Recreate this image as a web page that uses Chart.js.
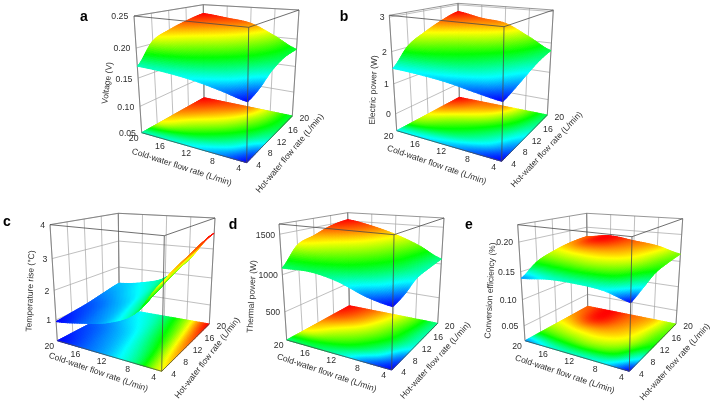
<!DOCTYPE html>
<html>
<head>
<meta charset="utf-8">
<style>
html, body { margin: 0; padding: 0; background: #fff; }
body { position: relative; width: 711px; height: 404px; overflow: hidden; }
canvas { position: absolute; }
</style>
<script src="https://cdn.jsdelivr.net/npm/chart.js@4"></script>
</head>
<body>
<script>
const coldRates = [4, 8, 12, 16, 20];
const hotRates = [4, 8, 12, 16, 20];
const coldTickLabels = ['4', '8', '12', '16', '20'];
const hotTickLabels = ['4', '8', '12', '16', '20'];
const coldTitle = 'Cold-water flow rate (L/min)';
const hotTitle = 'Hot-water flow rate (L/min)';

// rows = hot rate, columns = cold rate
const voltage = [
    [0.140, 0.149, 0.157, 0.162, 0.164],
    [0.148, 0.163, 0.175, 0.187, 0.200],
    [0.164, 0.178, 0.192, 0.203, 0.213],
    [0.174, 0.190, 0.206, 0.216, 0.223],
    [0.176, 0.198, 0.218, 0.225, 0.231],
];
const electricPower = [
    [1.02, 1.12, 1.25, 1.33, 1.37],
    [1.15, 1.38, 1.58, 1.76, 1.95],
    [1.33, 1.60, 1.85, 2.05, 2.25],
    [1.52, 1.85, 2.17, 2.36, 2.52],
    [1.64, 2.05, 2.44, 2.55, 2.73],
];
const temperatureRise = [
    [2.71, 1.70, 1.25, 1.03, 0.87],
    [2.90, 1.85, 1.32, 1.08, 0.93],
    [3.08, 2.05, 1.42, 1.15, 1.00],
    [3.27, 2.25, 1.55, 1.28, 1.12],
    [3.46, 2.45, 1.68, 1.38, 1.24],
];
const thermalPower = [
    [806, 865, 985, 1050, 1039],
    [860, 1000, 1120, 1200, 1290],
    [965, 1100, 1215, 1300, 1370],
    [1000, 1150, 1280, 1390, 1460],
    [1024, 1190, 1325, 1430, 1505],
];
const conversionEfficiency = [
    [0.126, 0.137, 0.140, 0.139, 0.132],
    [0.137, 0.153, 0.158, 0.156, 0.153],
    [0.150, 0.163, 0.168, 0.168, 0.164],
    [0.155, 0.167, 0.174, 0.180, 0.172],
    [0.158, 0.170, 0.176, 0.182, 0.176],
];

const voltageTicks = [0.05, 0.10, 0.15, 0.20, 0.25];
const voltageTickLabels = ['0.05', '0.10', '0.15', '0.20', '0.25'];
const electricTicks = [0, 1, 2, 3];
const electricTickLabels = ['0', '1', '2', '3'];
const tempTicks = [1, 2, 3, 4];
const tempTickLabels = ['1', '2', '3', '4'];
const thermalTicks = [500, 1000, 1500];
const thermalTickLabels = ['500', '1000', '1500'];
const effTicks = [0.05, 0.10, 0.15, 0.20];
const effTickLabels = ['0.05', '0.10', '0.15', '0.20'];

// box: floor corners then top corners, in page pixels. F = cold4/hot4, L = cold20/hot4, R = cold4/hot20, B = cold20/hot20
const panels = [
    { letter: 'a', letterAt: [84, 17], frame: [70, 0, 262, 200], z: voltage, zRange: [0.05, 0.25], ticks: voltageTicks, tickLabels: voltageTickLabels,
      zTitle: 'Voltage (V)', zTitleAt: [107.5, 83, -83],
      F: [246.7, 162.7], L: [141.7, 132.7], R: [292.3, 116], B: [204, 97.7],
      Ft: [248.7, 27.3], Lt: [134, 16], Rt: [299, 10], Bt: [203.3, 4.7],
      coldAt: [181.7, 167.3, 18], hotAt: [290, 153.5, -50] },
    { letter: 'b', letterAt: [344, 17], frame: [336, 0, 270, 200], z: electricPower, zRange: [-0.6, 3.05], ticks: electricTicks, tickLabels: electricTickLabels,
      zTitle: 'Electric power (W)', zTitleAt: [373.5, 90, -88],
      F: [501.7, 161.3], L: [396.7, 130.7], R: [547.3, 115], B: [459.3, 97.3],
      Ft: [504, 26.7], Lt: [389.3, 15.3], Rt: [553.3, 10], Bt: [458, 3.3],
      coldAt: [436.7, 165, 19], hotAt: [546.7, 149.6, -47] },
    { letter: 'c', letterAt: [7, 222], frame: [0, 204, 245, 200], z: temperatureRise, zRange: [0.25, 4], ticks: tempTicks, tickLabels: tempTickLabels,
      zTitle: 'Temperature rise (\u00B0C)', zTitleAt: [30.5, 291, -88],
      F: [161.7, 371.3], L: [57.3, 340.7], R: [209.3, 324], B: [119.3, 308.3],
      Ft: [164.3, 235.7], Lt: [50, 224.7], Rt: [215, 218], Bt: [118.3, 213.3],
      coldAt: [98.3, 372.3, 19], hotAt: [207.5, 358, -52] },
    { letter: 'd', letterAt: [233, 225], frame: [226, 204, 245, 200], z: thermalPower, zRange: [90, 1620], ticks: thermalTicks, tickLabels: thermalTickLabels,
      zTitle: 'Thermal power (W)', zTitleAt: [252, 296.5, -87],
      F: [391.7, 370], L: [286.7, 340], R: [437.7, 323.3], B: [349.3, 305.7],
      Ft: [394, 234.7], Lt: [279, 224], Rt: [444, 218], Bt: [347.7, 212.7],
      coldAt: [326.7, 373, 18.5], hotAt: [435.5, 360.5, -48] },
    { letter: 'e', letterAt: [469, 225], frame: [462, 204, 249, 200], z: conversionEfficiency, zRange: [0.02, 0.228], ticks: effTicks, tickLabels: effTickLabels,
      zTitle: 'Conversion efficiency (%)', zTitleAt: [490.5, 290.5, -87],
      F: [629.3, 371.3], L: [525, 340.7], R: [676, 324], B: [587.7, 306.3],
      Ft: [632, 236.7], Lt: [517.7, 224.7], Rt: [682.7, 218.7], Bt: [586.7, 213.3],
      coldAt: [564.8, 374.3, 18.5], hotAt: [675, 362, -48] },
];

const FONT = '"Liberation Sans", Arial, sans-serif';
const SUBDIV = 16;
const DEPTH_BOW = 0.13;

function lerp(a, b, t) { return a + (b - a) * t; }

// page position of a (u, v, w) point inside the box
function boxPoint(p, u, v, w) {
    const pick = i => {
        const floor = (1 - u) * (1 - v) * p.F[i] + u * (1 - v) * p.L[i] + (1 - u) * v * p.R[i] + u * v * p.B[i];
        const top = (1 - u) * (1 - v) * p.Ft[i] + u * (1 - v) * p.Lt[i] + (1 - u) * v * p.Rt[i] + u * v * p.Bt[i];
        return lerp(floor, top, w);
    };
    return { x: pick(0), y: pick(1) };
}

function project(p, cold, hot, val) {
    const u = (cold - coldRates[0]) / (coldRates[coldRates.length - 1] - coldRates[0]);
    const v = (hot - hotRates[0]) / (hotRates[hotRates.length - 1] - hotRates[0]);
    const w = (val - p.zRange[0]) / (p.zRange[1] - p.zRange[0]);
    return boxPoint(p, u, v, w);
}

// tick levels sit a bit lower in the middle of the box, the camera is close
function projectTick(p, cold, hot, val) {
    const span = p.zRange[1] - p.zRange[0];
    const w = (val - p.zRange[0]) / span;
    return project(p, cold, hot, val - DEPTH_BOW * w * (1 - w) * span);
}

function catmull(a, b, c, d, t) {
    return 0.5 * (2 * b + (c - a) * t + (2 * a - 5 * b + 4 * c - d) * t * t + (3 * b - a - 3 * c + d) * t * t * t);
}

// smooth shading between the read values, only used to paint the cells
function shadeAt(z, fi, fj) {
    const n = z.length - 1, m = z[0].length - 1;
    const i = Math.min(Math.floor(fi), n - 1), j = Math.min(Math.floor(fj), m - 1);
    const row = r => {
        const q = z[Math.max(0, Math.min(n, r))];
        return catmull(q[Math.max(0, j - 1)], q[j], q[j + 1], q[Math.min(m, j + 2)], fj - j);
    };
    return catmull(row(i - 1), row(i), row(i + 1), row(i + 2), fi - i);
}

function rainbow(t) {
    t = Math.pow(Math.max(0, Math.min(1, t)), 0.85);
    return 'hsl(' + ((1 - t) * 240).toFixed(1) + ',100%,50%)';
}

const surfacePlugin = {
    id: 'surface',
    beforeDatasetsDraw(chart) {
        const p = chart.options.plugins.surface.panel;
        const ctx = chart.ctx;
        const sx = chart.scales.x, sy = chart.scales.y;
        const toPx = q => ({ x: sx.getPixelForValue(q.x), y: sy.getPixelForValue(q.y) });
        const line = (a, b) => {
            const pa = toPx(a), pb = toPx(b);
            ctx.beginPath(); ctx.moveTo(pa.x, pa.y); ctx.lineTo(pb.x, pb.y); ctx.stroke();
        };
        const zLo = p.zRange[0], zHi = p.zRange[1];
        const cMax = coldRates[coldRates.length - 1], hMax = hotRates[hotRates.length - 1];
        ctx.save();

        // back walls
        ctx.strokeStyle = '#a4a4a4';
        ctx.lineWidth = 0.7;
        p.ticks.forEach(t => {
            line(projectTick(p, coldRates[0], hMax, t), projectTick(p, cMax, hMax, t));
            line(projectTick(p, cMax, hotRates[0], t), projectTick(p, cMax, hMax, t));
        });
        coldRates.forEach(c => line(project(p, c, hMax, zLo), project(p, c, hMax, zHi)));
        hotRates.forEach(h => line(project(p, cMax, h, zLo), project(p, cMax, h, zHi)));
        ctx.strokeStyle = '#6a6a6a';
        line(project(p, cMax, hMax, zLo), project(p, cMax, hMax, zHi));
        line(project(p, cMax, hMax, zHi), project(p, coldRates[0], hMax, zHi));
        line(project(p, cMax, hMax, zHi), project(p, cMax, hotRates[0], zHi));
        line(project(p, cMax, hotRates[0], zLo), project(p, cMax, hotRates[0], zHi));
        line(project(p, coldRates[0], hMax, zLo), project(p, coldRates[0], hMax, zHi));

        // fine value grid
        const N = (coldRates.length - 1) * SUBDIV, M = (hotRates.length - 1) * SUBDIV;
        const all = p.z.flat();
        const vMin = Math.min(...all), vMax = Math.max(...all);
        const fine = [];
        for (let h = 0; h <= M; h++) {
            fine.push([]);
            for (let c = 0; c <= N; c++) fine[h].push(shadeAt(p.z, h / SUBDIV, c / SUBDIV));
        }
        const coldAt = c => lerp(coldRates[0], cMax, c / N);
        const hotAt = h => lerp(hotRates[0], hMax, h / M);

        const paint = onFloor => {
            for (let h = M - 1; h >= 0; h--) {
                for (let c = N - 1; c >= 0; c--) {
                    const corner = (hh, cc) => toPx(project(p, coldAt(cc), hotAt(hh), onFloor ? zLo : fine[hh][cc]));
                    const a = corner(h, c), b = corner(h, c + 1), d = corner(h + 1, c + 1), e = corner(h + 1, c);
                    const val = (fine[h][c] + fine[h][c + 1] + fine[h + 1][c] + fine[h + 1][c + 1]) / 4;
                    const col = rainbow((val - vMin) / (vMax - vMin));
                    ctx.fillStyle = col;
                    ctx.strokeStyle = col;
                    ctx.lineWidth = 1;
                    ctx.lineJoin = 'round';
                    ctx.beginPath();
                    ctx.moveTo(a.x, a.y); ctx.lineTo(b.x, b.y); ctx.lineTo(d.x, d.y); ctx.lineTo(e.x, e.y);
                    ctx.closePath();
                    ctx.fill();
                    ctx.stroke();
                }
            }
        };
        paint(true);
        paint(false);

        // front edges go over the surface
        ctx.strokeStyle = '#4a4a4a';
        ctx.lineWidth = 0.8;
        const c0 = coldRates[0], h0 = hotRates[0];
        line(project(p, c0, h0, zLo), project(p, c0, h0, zHi));
        line(project(p, c0, h0, zHi), project(p, cMax, h0, zHi));
        line(project(p, c0, h0, zHi), project(p, c0, hMax, zHi));
        line(project(p, c0, h0, zLo), project(p, cMax, h0, zLo));
        line(project(p, c0, h0, zLo), project(p, c0, hMax, zLo));

        // text
        const text = (s, at, angle, font, color) => {
            const q = toPx({ x: at[0], y: at[1] });
            ctx.save();
            ctx.translate(q.x, q.y);
            ctx.rotate((angle || 0) * Math.PI / 180);
            ctx.font = font;
            ctx.fillStyle = color;
            ctx.textAlign = 'center';
            ctx.textBaseline = 'middle';
            ctx.fillText(s, 0, 0);
            ctx.restore();
        };
        const tickFont = '8.7px ' + FONT;
        const titleFont = '8.5px ' + FONT;
        const ink = '#2e2e2e';
        coldRates.forEach((c, i) => {
            const q = project(p, c, h0, zLo);
            text(coldTickLabels[i], [q.x - 8, q.y + 6], 0, tickFont, ink);
        });
        hotRates.forEach((h, i) => {
            const q = project(p, c0, h, zLo);
            text(hotTickLabels[i], [q.x + 12, q.y + 3], 0, tickFont, ink);
        });
        p.ticks.forEach((t, i) => {
            const q = projectTick(p, cMax, h0, t);
            const w = p.tickLabels[i].length * 2.3;
            text(p.tickLabels[i], [q.x - 5 - w, q.y + 1], 0, tickFont, ink);
        });
        text(coldTitle, p.coldAt, p.coldAt[2], titleFont, ink);
        text(hotTitle, p.hotAt, p.hotAt[2], titleFont, ink);
        text(p.zTitle, p.zTitleAt, p.zTitleAt[2], titleFont, ink);
        text(p.letter, p.letterAt, 0, 'bold 14px ' + FONT, '#000');
        ctx.restore();
    },
};

panels.forEach(p => {
    const [left, top, width, height] = p.frame;
    const canvas = document.createElement('canvas');
    canvas.width = width;
    canvas.height = height;
    canvas.style.left = left + 'px';
    canvas.style.top = top + 'px';
    canvas.style.width = width + 'px';
    canvas.style.height = height + 'px';
    document.body.appendChild(canvas);

    const nodes = [];
    const floorNodes = [];
    hotRates.forEach((h, i) => coldRates.forEach((c, j) => {
        nodes.push(project(p, c, h, p.z[i][j]));
        floorNodes.push(project(p, c, h, p.zRange[0]));
    }));

    new Chart(canvas, {
        type: 'scatter',
        data: {
            datasets: [
                { label: p.zTitle, data: nodes, pointRadius: 0, showLine: false },
                { label: p.zTitle + ' contour', data: floorNodes, pointRadius: 0, showLine: false },
            ],
        },
        options: {
            responsive: false,
            animation: false,
            events: [],
            layout: { padding: 0 },
            scales: {
                x: { type: 'linear', display: false, min: left, max: left + width },
                y: { type: 'linear', display: false, min: top, max: top + height, reverse: true },
            },
            plugins: {
                legend: { display: false },
                tooltip: { enabled: false },
                surface: { panel: p },
            },
        },
        plugins: [surfacePlugin],
    });
});
</script>
</body>
</html>
